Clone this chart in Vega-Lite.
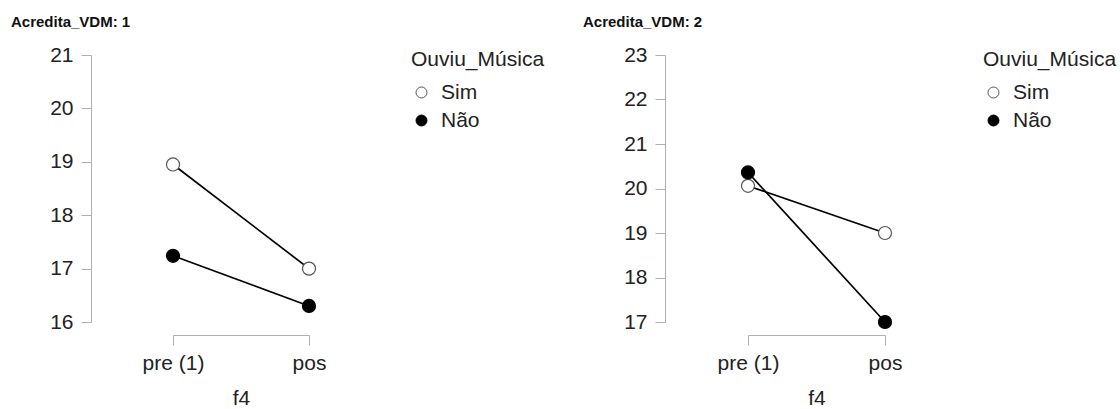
{
  "$schema": "https://vega.github.io/schema/vega-lite/v6.json",
  "background": "white",
  "padding": {"left": 11, "top": 15, "right": 0, "bottom": 0},
  "config": {
    "view": {"stroke": null},
    "font": "Liberation Sans",
    "axis": {
      "grid": false,
      "domainColor": "#b0b0b0",
      "tickColor": "#b0b0b0",
      "labelColor": "#222222",
      "titleColor": "#222222",
      "labelFontSize": 21,
      "titleFontSize": 21,
      "titleFontWeight": "normal",
      "labelFont": "Liberation Sans",
      "titleFont": "Liberation Sans"
    },
    "legend": {
      "titleFontSize": 21,
      "labelFontSize": 21,
      "titleFontWeight": "normal",
      "titleColor": "#222222",
      "labelColor": "#222222",
      "titleFont": "Liberation Sans",
      "labelFont": "Liberation Sans",
      "symbolSize": 120,
      "symbolStrokeWidth": 1,
      "rowPadding": 6,
      "titlePadding": 12,
      "labelOffset": 9
    },
    "title": {"font": "Liberation Sans", "fontSize": 15, "fontWeight": "bold", "color": "#111111"}
  },
  "datasets": {
    "p1": [
      {"f4": "pre (1)", "ouviu": "Sim", "value": 18.95},
      {"f4": "pos", "ouviu": "Sim", "value": 17.0},
      {"f4": "pre (1)", "ouviu": "Não", "value": 17.24},
      {"f4": "pos", "ouviu": "Não", "value": 16.3}
    ],
    "p2": [
      {"f4": "pre (1)", "ouviu": "Sim", "value": 20.06},
      {"f4": "pos", "ouviu": "Sim", "value": 19.0},
      {"f4": "pre (1)", "ouviu": "Não", "value": 20.36},
      {"f4": "pos", "ouviu": "Não", "value": 17.0}
    ]
  },
  "spacing": 38,
  "hconcat": [
    {
      "width": 440,
      "height": 267,
      "title": {"text": "Acredita_VDM: 1", "anchor": "start", "frame": "group", "dx": -80, "offset": 14},
      "data": {"name": "p1"},
      "encoding": {
        "x": {"field": "f4", "type": "ordinal", "sort": ["pre (1)", "pos"],
              "scale": {"type": "point", "padding": 0, "range": [82, 218]},
              "axis": {"title": "f4", "labelAngle": 0, "offset": 13, "tickSize": 10, "labelPadding": 7, "titlePadding": 14}},
        "y": {"field": "value", "type": "quantitative",
              "scale": {"domain": [16, 21], "nice": false, "zero": false},
              "axis": {"title": null, "values": [16, 17, 18, 19, 20, 21], "tickSize": 10, "labelPadding": 8}}
      },
      "layer": [
        {"mark": {"type": "line", "color": "black", "strokeWidth": 1.7},
         "encoding": {"detail": {"field": "ouviu"}}},
        {"mark": {"type": "point", "shape": "circle", "filled": true, "size": 170, "opacity": 1, "strokeWidth": 1.2},
         "encoding": {
           "fill": {"field": "ouviu", "type": "nominal", "scale": {"domain": ["Sim", "Não"], "range": ["white", "black"]},
                    "legend": {"title": "Ouviu_Música", "orient": "none", "legendX": 320, "legendY": -6}},
           "stroke": {"field": "ouviu", "type": "nominal", "scale": {"domain": ["Sim", "Não"], "range": ["#555555", "black"]},
                      "legend": {"title": "Ouviu_Música", "orient": "none", "legendX": 320, "legendY": -6}}
         }}
      ]
    },
    {
      "width": 440,
      "height": 267,
      "title": {"text": "Acredita_VDM: 2", "anchor": "start", "frame": "group", "dx": -82, "offset": 14},
      "data": {"name": "p2"},
      "encoding": {
        "x": {"field": "f4", "type": "ordinal", "sort": ["pre (1)", "pos"],
              "scale": {"type": "point", "padding": 0, "range": [83, 220]},
              "axis": {"title": "f4", "labelAngle": 0, "offset": 13, "tickSize": 10, "labelPadding": 7, "titlePadding": 14}},
        "y": {"field": "value", "type": "quantitative",
              "scale": {"domain": [17, 23], "nice": false, "zero": false},
              "axis": {"title": null, "values": [17, 18, 19, 20, 21, 22, 23], "tickSize": 10, "labelPadding": 8}}
      },
      "layer": [
        {"mark": {"type": "line", "color": "black", "strokeWidth": 1.7},
         "encoding": {"detail": {"field": "ouviu"}}},
        {"mark": {"type": "point", "shape": "circle", "filled": true, "size": 170, "opacity": 1, "strokeWidth": 1.2},
         "encoding": {
           "fill": {"field": "ouviu", "type": "nominal", "scale": {"domain": ["Sim", "Não"], "range": ["white", "black"]},
                    "legend": {"title": "Ouviu_Música", "orient": "none", "legendX": 318, "legendY": -6}},
           "stroke": {"field": "ouviu", "type": "nominal", "scale": {"domain": ["Sim", "Não"], "range": ["#555555", "black"]},
                      "legend": {"title": "Ouviu_Música", "orient": "none", "legendX": 318, "legendY": -6}}
         }}
      ]
    }
  ],
  "resolve": {
    "scale": {"y": "independent", "x": "independent", "fill": "independent", "stroke": "independent"},
    "legend": {"fill": "independent", "stroke": "independent"}
  }
}
